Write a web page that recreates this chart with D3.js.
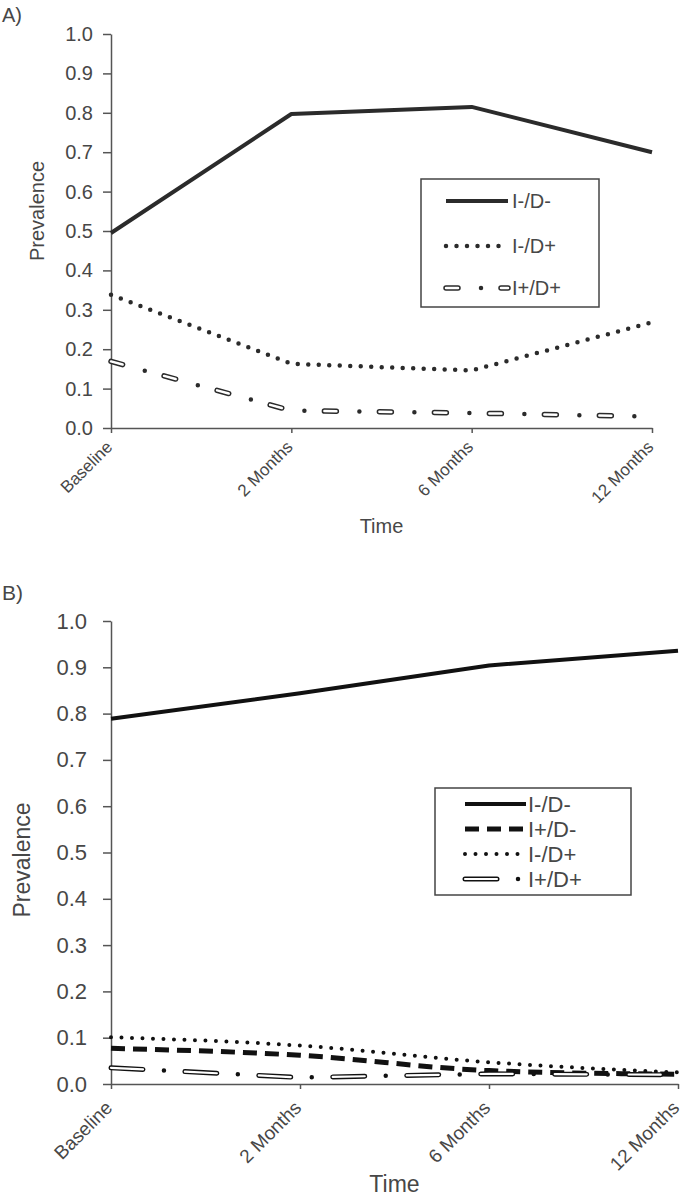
<!DOCTYPE html>
<html>
<head>
<meta charset="utf-8">
<script src="https://cdn.jsdelivr.net/npm/d3@7"></script>
<style>
  html, body { margin: 0; padding: 0; background: #fff; }
  svg { display: block; }
  text { font-family: "Liberation Sans", Arial, sans-serif; fill: #474747; }
</style>
</head>
<body>
<svg id="chart" width="682" height="1199"></svg>
<script>
// ---------------- data ----------------
const categories = ["Baseline", "2 Months", "6 Months", "12 Months"];
const yTickValues = [0, 0.1, 0.2, 0.3, 0.4, 0.5, 0.6, 0.7, 0.8, 0.9, 1.0];

const seriesNamesA = ["I-/D-", "I-/D+", "I+/D+"];
const aIminusDminus = [0.495, 0.797, 0.815, 0.700];
const aIminusDplus  = [0.338, 0.163, 0.146, 0.268];
const aIplusDplus   = [0.169, 0.044, 0.038, 0.029];

const seriesNamesB = ["I-/D-", "I+/D-", "I-/D+", "I+/D+"];
const bIminusDminus = [0.789, 0.844, 0.904, 0.936];
const bIplusDminus  = [0.077, 0.062, 0.029, 0.021];
const bIminusDplus  = [0.101, 0.083, 0.047, 0.025];
const bIplusDplus   = [0.035, 0.014, 0.022, 0.020];

// ---------------- drawing ----------------
const svg = d3.select("#chart");

function drawStyled(g, d, st) {
  if (st.type === "solid") {
    g.append("path").attr("d", d).attr("fill", "none")
      .attr("stroke", st.color).attr("stroke-width", st.width)
      .attr("stroke-linejoin", "round");
  } else if (st.type === "dash") {
    g.append("path").attr("d", d).attr("fill", "none")
      .attr("stroke", st.color).attr("stroke-width", st.width)
      .attr("stroke-dasharray", st.dash.join(" "));
  } else if (st.type === "dot") {
    g.append("path").attr("d", d).attr("fill", "none")
      .attr("stroke", st.color).attr("stroke-width", st.width)
      .attr("stroke-linecap", "round")
      .attr("stroke-dasharray", "0 " + st.spacing);
  } else if (st.type === "hollow") {
    const da = st.dash + " " + (st.period - st.dash);
    g.append("path").attr("d", d).attr("fill", "none")
      .attr("stroke", st.color).attr("stroke-width", st.outer)
      .attr("stroke-linecap", "round").attr("stroke-dasharray", da);
    g.append("path").attr("d", d).attr("fill", "none")
      .attr("stroke", "#fff").attr("stroke-width", st.inner)
      .attr("stroke-linecap", "round").attr("stroke-dasharray", da);
    g.append("path").attr("d", d).attr("fill", "none")
      .attr("stroke", st.color).attr("stroke-width", st.dotW)
      .attr("stroke-linecap", "round")
      .attr("stroke-dasharray", "0 " + st.period)
      .attr("stroke-dashoffset", st.period - st.dotPos);
  }
}

function panel(cfg) {
  const g = svg.append("g");
  const x = d3.scalePoint().domain(categories).range([cfg.x0, cfg.x1]).padding(0);
  const y = d3.scaleLinear().domain([0, 1]).range([cfg.yb, cfg.yt]);

  // panel letter
  g.append("text").attr("x", 2).attr("y", cfg.letterY)
    .attr("font-size", cfg.letterSize).text(cfg.letter);

  // y axis
  const ya = g.append("g").attr("transform", `translate(${cfg.x0},0)`)
    .call(d3.axisLeft(y).tickValues(yTickValues).tickFormat(d3.format(".1f"))
      .tickSize(8).tickSizeOuter(0).tickPadding(cfg.yPad));
  ya.selectAll("path, line").attr("stroke", "#555").attr("stroke-width", 1.5);
  ya.selectAll("text").attr("font-size", cfg.yFont).attr("fill", "#474747")
    .attr("font-family", '"Liberation Sans", Arial, sans-serif');

  // x axis
  const xa = g.append("g").attr("transform", `translate(0,${cfg.yb})`)
    .call(d3.axisBottom(x).tickSize(5).tickSizeOuter(0));
  xa.selectAll("path, line").attr("stroke", "#555").attr("stroke-width", 1.5);
  xa.selectAll("text")
    .attr("font-size", cfg.xFont).attr("fill", "#474747")
    .attr("font-family", '"Liberation Sans", Arial, sans-serif')
    .attr("text-anchor", "end")
    .attr("y", 0).attr("dy", 0)
    .attr("transform", `translate(2,${cfg.xLabOff}) rotate(-45)`);

  // axis titles
  g.append("text").attr("x", (cfg.x0 + cfg.x1) / 2).attr("y", cfg.timeY)
    .attr("text-anchor", "middle").attr("font-size", cfg.titleFont).text("Time");
  g.append("text")
    .attr("transform", `translate(${cfg.prevX},${cfg.prevY}) rotate(-90)`)
    .attr("text-anchor", "middle").attr("font-size", cfg.titleFont).text("Prevalence");

  // series
  cfg.series.forEach(s => {
    const line = d3.line()
      .x((v, i) => x(categories[i]))
      .y(v => y(v))
      .curve(s.curve || d3.curveLinear);
    drawStyled(g.append("g"), line(s.values), s.style);
  });

  // legend
  const L = cfg.legend;
  g.append("rect").attr("x", L.x).attr("y", L.y).attr("width", L.w).attr("height", L.h)
    .attr("fill", "#fff").attr("stroke", "#444").attr("stroke-width", 1.5);
  cfg.series.forEach((s, i) => {
    const ry = L.rowY[i];
    const lg = g.append("g");
    drawStyled(lg, `M${L.lx0},${ry}L${L.lx1},${ry}`, s.style);
    g.append("text").attr("x", L.tx).attr("y", ry).attr("dy", "0.36em")
      .attr("font-size", L.font).text(s.name);
  });
}

panel({
  letter: "A)", letterY: 22, letterSize: 20,
  x0: 111, x1: 652, yt: 34, yb: 428,
  yFont: 20, yPad: 10, xFont: 17, xLabOff: 20,
  titleFont: 20, timeY: 533, prevX: 44, prevY: 211,
  series: [
    { name: seriesNamesA[0], values: aIminusDminus,
      style: { type: "solid", color: "#2b2b2b", width: 4 } },
    { name: seriesNamesA[1], values: aIminusDplus,
      style: { type: "dot", color: "#2b2b2b", width: 4.5, spacing: 10.5 } },
    { name: seriesNamesA[2], values: aIplusDplus,
      style: { type: "hollow", color: "#2b2b2b", outer: 5.5, inner: 2.5, dotW: 4.5,
               dash: 12, period: 55, dotPos: 35 } }
  ],
  legend: { x: 421, y: 179, w: 178, h: 128, rowY: [201, 246, 288],
            lx0: 446, lx1: 508, tx: 512, font: 20 }
});

panel({
  letter: "B)", letterY: 600, letterSize: 21,
  x0: 111, x1: 678, yt: 621, yb: 1084,
  yFont: 22, yPad: 16, xFont: 19, xLabOff: 25,
  titleFont: 23, timeY: 1192, prevX: 30, prevY: 860,
  series: [
    { name: seriesNamesB[0], values: bIminusDminus,
      style: { type: "solid", color: "#111", width: 4 } },
    { name: seriesNamesB[1], values: bIplusDminus, curve: d3.curveMonotoneX,
      style: { type: "dash", color: "#111", width: 5, dash: [14, 8] } },
    { name: seriesNamesB[2], values: bIminusDplus, curve: d3.curveMonotoneX,
      style: { type: "dot", color: "#111", width: 4, spacing: 10.5 } },
    { name: seriesNamesB[3], values: bIplusDplus,
      style: { type: "hollow", color: "#111", outer: 5, inner: 2.2, dotW: 4.5,
               dash: 32, period: 74, dotPos: 53 } }
  ],
  legend: { x: 435, y: 788, w: 196, h: 107, rowY: [804, 829, 854, 879],
            lx0: 465, lx1: 526, tx: 528, font: 22 }
});
</script>
</body>
</html>
